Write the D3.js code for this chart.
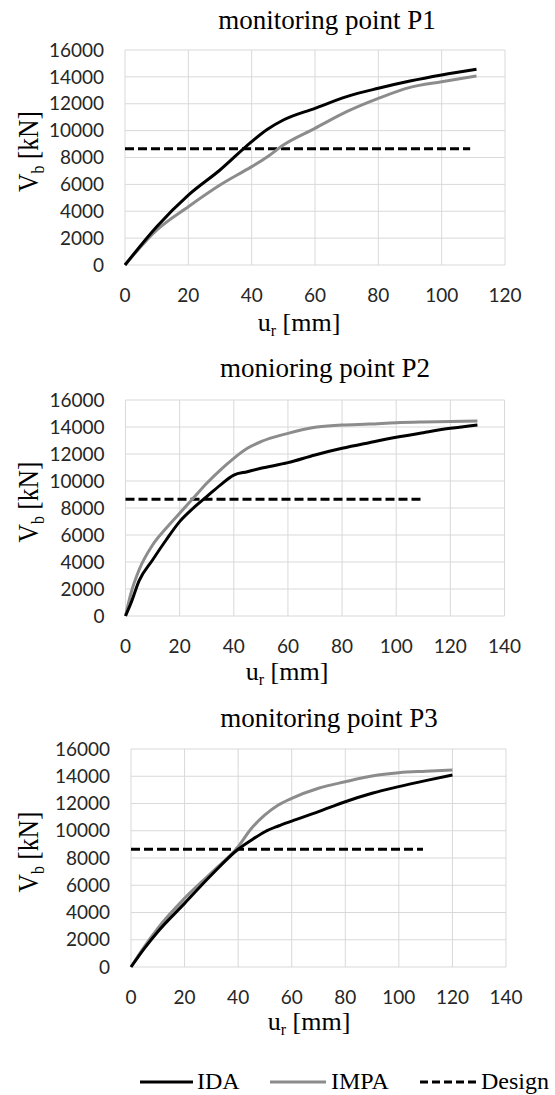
<!DOCTYPE html>
<html>
<head>
<meta charset="utf-8">
<script src="https://cdn.jsdelivr.net/npm/d3@7"></script>
<style>
  body { margin: 0; background: #fff; }
  svg { display: block; }
  .tick-label { font-family: Lato, "Open Sans", sans-serif; font-size: 19px; fill: #262626; }
  .serif { font-family: "Liberation Serif", "DejaVu Serif", serif; fill: #000; }
</style>
</head>
<body>
<svg width="555" height="1095"></svg>
<script>
// ---- data ----
const yTicks = [0, 2000, 4000, 6000, 8000, 10000, 12000, 14000, 16000];
const designV = 8650;
const seriesNames = ["IDA", "IMPA", "Design"];

const p1Title = "monitoring point P1";
const p1XTicks = [0, 20, 40, 60, 80, 100, 120];
const p1U    = [0, 10, 20, 30, 40, 45, 50, 60, 70, 80, 90, 100, 111];
const p1Ida  = [0, 2850, 5200, 7070, 9180, 10100, 10790, 11660, 12530, 13150, 13690, 14140, 14560];
const p1Impa = [0, 2600, 4340, 5950, 7320, 8060, 8930, 10170, 11410, 12400, 13220, 13640, 14070];
const p1DesignEnd = 109;

const p2Title = "monioring point P2";
const p2XTicks = [0, 20, 40, 60, 80, 100, 120, 140];
const p2U    = [0, 2, 5, 10, 15, 20, 25, 30, 35, 40, 45, 50, 60, 70, 80, 90, 100, 110, 120, 130];
const p2Ida  = [0, 940, 2600, 4150, 5630, 6990, 7980, 8840, 9700, 10440, 10690, 10940, 11360, 11930, 12420, 12840, 13240, 13580, 13900, 14150];
const p2Impa = [0, 1680, 3410, 5260, 6500, 7610, 8720, 9830, 10810, 11680, 12420, 12910, 13530, 13980, 14150, 14220, 14320, 14370, 14400, 14440];
const p2DesignEnd = 110;

const p3Title = "monitoring point P3";
const p3XTicks = [0, 20, 40, 60, 80, 100, 120, 140];
const p3U    = [0, 5, 10, 20, 30, 40, 45, 50, 55, 60, 70, 80, 90, 100, 110, 120];
const p3Ida  = [0, 1370, 2590, 4670, 6750, 8640, 9320, 9930, 10350, 10710, 11400, 12130, 12750, 13240, 13680, 14090];
const p3Impa = [0, 1500, 2840, 5040, 6920, 8830, 10180, 11160, 11890, 12380, 13120, 13600, 14020, 14260, 14370, 14460];
const p3DesignEnd = 109;

const svg = d3.select("svg");

const panels = [
  { title: p1Title, xt: p1XTicks, u: p1U, ida: p1Ida, impa: p1Impa, dEnd: p1DesignEnd,
    left: 125, right: 505, top: 50, bottom: 265, titleX: 327, titleY: 29, xlX: 299, xlY: 331 },
  { title: p2Title, xt: p2XTicks, u: p2U, ida: p2Ida, impa: p2Impa, dEnd: p2DesignEnd,
    left: 125.5, right: 504.5, top: 400, bottom: 616, titleX: 325, titleY: 377, xlX: 287, xlY: 680 },
  { title: p3Title, xt: p3XTicks, u: p3U, ida: p3Ida, impa: p3Impa, dEnd: p3DesignEnd,
    left: 131, right: 506, top: 749, bottom: 967, titleX: 329, titleY: 727, xlX: 309, xlY: 1030 }
];

panels.forEach(function(p) {
  const x = d3.scaleLinear()
    .domain([0, d3.max(p.xt)])
    .range([p.left, p.right]);
  const y = d3.scaleLinear()
    .domain([0, 16000])
    .range([p.bottom, p.top]);

  const g = svg.append("g");

  // grid
  g.selectAll("line.hgrid")
    .data(yTicks)
    .enter().append("line")
    .attr("x1", p.left).attr("x2", p.right)
    .attr("y1", d => y(d)).attr("y2", d => y(d))
    .attr("stroke", "#d9d9d9").attr("stroke-width", 1);
  g.selectAll("line.vgrid")
    .data(p.xt)
    .enter().append("line")
    .attr("x1", d => x(d)).attr("x2", d => x(d))
    .attr("y1", p.top).attr("y2", p.bottom)
    .attr("stroke", "#d9d9d9").attr("stroke-width", 1);

  // tick labels
  g.selectAll("text.yt")
    .data(yTicks)
    .enter().append("text")
    .attr("class", "tick-label")
    .attr("x", p.left - 21)
    .attr("y", d => y(d))
    .attr("dy", "0.35em")
    .attr("text-anchor", "end")
    .text(d => d);
  g.selectAll("text.xt")
    .data(p.xt)
    .enter().append("text")
    .attr("class", "tick-label")
    .attr("x", d => x(d))
    .attr("y", p.bottom + 30)
    .attr("dy", "0.35em")
    .attr("text-anchor", "middle")
    .text(d => d);

  // title
  g.append("text")
    .attr("class", "serif")
    .attr("x", p.titleX).attr("y", p.titleY)
    .attr("text-anchor", "middle")
    .style("font-size", "27px")
    .text(p.title);

  // x axis label
  const xl = g.append("text")
    .attr("class", "serif")
    .attr("x", p.xlX).attr("y", p.xlY)
    .attr("text-anchor", "middle")
    .style("font-size", "26px");
  xl.append("tspan").text("u");
  xl.append("tspan").attr("dy", 5).style("font-size", "16px").text("r");
  xl.append("tspan").attr("dy", -5).text(" [mm]");

  // y axis label (glyphs look squeezed along the text in the reference)
  const cy = (p.top + p.bottom) / 2 - 6;
  const yl = g.append("text")
    .attr("class", "serif")
    .attr("transform", "translate(38," + cy + ") rotate(-90) scale(0.88,1)")
    .attr("text-anchor", "middle")
    .style("font-size", "29px");
  yl.append("tspan").text("V");
  yl.append("tspan").attr("dy", 6).style("font-size", "18px").text("b");
  yl.append("tspan").attr("dy", -6).text(" [kN]");

  const line = d3.line()
    .x(d => x(d[0]))
    .y(d => y(d[1]))
    .curve(d3.curveMonotoneX);

  // design line
  g.append("line")
    .attr("x1", x(0)).attr("x2", x(p.dEnd))
    .attr("y1", y(designV)).attr("y2", y(designV))
    .attr("stroke", "#000").attr("stroke-width", 3)
    .attr("stroke-dasharray", "9,4");

  g.append("path")
    .datum(d3.zip(p.u, p.impa))
    .attr("d", line)
    .attr("fill", "none")
    .attr("stroke", "#8c8c8c")
    .attr("stroke-width", 3);

  g.append("path")
    .datum(d3.zip(p.u, p.ida))
    .attr("d", line)
    .attr("fill", "none")
    .attr("stroke", "#000")
    .attr("stroke-width", 3);
});

// legend
const legendItems = [
  { name: seriesNames[0], x1: 140, x2: 193, tx: 197, color: "#000", dash: null },
  { name: seriesNames[1], x1: 270, x2: 326, tx: 331, color: "#8c8c8c", dash: null },
  { name: seriesNames[2], x1: 420, x2: 478, tx: 481, color: "#000", dash: "8,4" }
];
const legend = svg.append("g");
legendItems.forEach(function(d) {
  legend.append("line")
    .attr("x1", d.x1).attr("x2", d.x2)
    .attr("y1", 1082).attr("y2", 1082)
    .attr("stroke", d.color).attr("stroke-width", 3)
    .attr("stroke-dasharray", d.dash);
  legend.append("text")
    .attr("class", "serif")
    .attr("x", d.tx).attr("y", 1089)
    .style("font-size", "24px")
    .text(d.name);
});
</script>
</body>
</html>
